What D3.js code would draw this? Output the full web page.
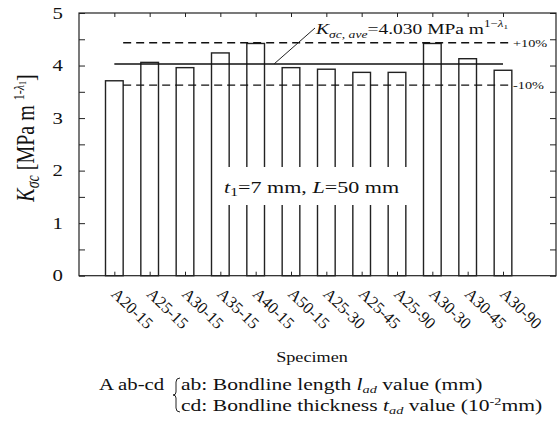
<!DOCTYPE html>
<html><head><meta charset="utf-8">
<script src="https://cdn.jsdelivr.net/npm/d3@7"></script>
<style>
html,body{margin:0;padding:0;background:#fff;}
svg text{font-family:"Liberation Serif","Times New Roman",serif;fill:#111;}
</style></head>
<body>
<svg id="chart" width="557" height="425"></svg>
<script>
// ---- data ----
const specimens = ["A20-15","A25-15","A30-15","A35-15","A40-15","A50-15","A25-30","A25-45","A25-90","A30-30","A30-45","A30-90"];
const kValues   = [3.71, 4.06, 3.96, 4.24, 4.42, 3.96, 3.93, 3.87, 3.87, 4.42, 4.13, 3.91];
const yTickLabels = [0, 1, 2, 3, 4, 5];
const kAve = 4.030;
const bandLevels = [0.10, -0.10];
const bandLabels = ["+10%", "-10%"];

// ---- layout ----
const svg = d3.select("#chart");
const SX = 1.3; // horizontal stretch of the original figure's text
const x = d3.scaleLinear().domain([0, 13.5]).range([79, 556]);
const y = d3.scaleLinear().domain([0, 5]).range([275.7, 13]);
const barW = x(0.5) - x(0);
const idx = specimens.map((d, i) => i + 1);

function stext(g, px, py, opts = {}) {
  const t = g.append("text")
    .attr("transform", `translate(${px},${py}) scale(${opts.sx || SX},1)${opts.rot ? ` rotate(${opts.rot})` : ""}`)
    .attr("font-size", opts.size || 16)
    .attr("text-anchor", opts.anchor || "start");
  return t;
}

// bars
svg.append("g").selectAll("rect").data(kValues).join("rect")
  .attr("x", (d, i) => x(idx[i]) - barW / 2)
  .attr("y", d => y(d))
  .attr("width", barW)
  .attr("height", d => y(0) - y(d))
  .attr("fill", "#fff").attr("stroke", "#222").attr("stroke-width", 1.4);

// white box behind condition text
svg.append("rect").attr("x", 215).attr("y", 167).attr("width", 195).attr("height", 38).attr("fill", "#fff");

// average line
svg.append("line")
  .attr("x1", x(1)).attr("x2", x(specimens.length))
  .attr("y1", y(kAve)).attr("y2", y(kAve))
  .attr("stroke", "#111").attr("stroke-width", 1.4);

// +-10% dashed lines
svg.append("g").selectAll("line").data(bandLevels).join("line")
  .attr("x1", x(1.25)).attr("x2", x(12.25))
  .attr("y1", d => y(kAve * (1 + d))).attr("y2", d => y(kAve * (1 + d)))
  .attr("stroke", "#111").attr("stroke-width", 1.4).attr("stroke-dasharray", "8,5");

const bandG = svg.append("g");
bandLevels.forEach((d, i) => {
  stext(bandG, 513, y(kAve * (1 + d)) + 4, {size: 11}).text(bandLabels[i]);
});

// axes frame & ticks
const minorTicks = d3.range(0, 5.01, 0.5);
svg.append("g").attr("transform", `translate(${x(0)},0)`)
  .call(d3.axisLeft(y).tickValues(minorTicks).tickSize(-6).tickFormat(""))
  .call(g => g.select(".domain").remove());
svg.append("g").attr("transform", `translate(${x(13.5)},0)`)
  .call(d3.axisRight(y).tickValues(minorTicks).tickSize(-6).tickFormat(""))
  .call(g => g.select(".domain").remove());
svg.append("g").attr("transform", `translate(0,${y(0)})`)
  .call(d3.axisBottom(x).tickValues(idx).tickSize(-4).tickFormat(""))
  .call(g => g.select(".domain").remove());
svg.append("g").attr("transform", `translate(0,${y(5)})`)
  .call(d3.axisTop(x).tickValues(idx).tickSize(-4).tickFormat(""))
  .call(g => g.select(".domain").remove());
svg.selectAll(".tick line").attr("stroke", "#222").attr("stroke-width", 1);
svg.append("rect").attr("x", x(0)).attr("y", y(5))
  .attr("width", x(13.5) - x(0)).attr("height", y(0) - y(5))
  .attr("fill", "none").attr("stroke", "#222").attr("stroke-width", 1.2);

// y tick labels
const ylG = svg.append("g");
yTickLabels.forEach(v => {
  stext(ylG, 63, y(v) + 5.5, {size: 16, anchor: "end"}).text(v);
});

// x tick labels
const xlG = svg.append("g");
specimens.forEach((s, i) => {
  xlG.append("text")
    .attr("transform", `translate(${x(idx[i]) - 4},${295}) rotate(44)`)
    .attr("font-size", 16.5).text(s);
});

// x axis title
stext(svg, 312, 362, {size: 14, anchor: "middle"}).text("Specimen");

// y axis title
const yt = stext(svg, 34, 138, {size: 20, anchor: "middle", rot: -90});
yt.append("tspan").attr("font-style", "italic").text("K");
yt.append("tspan").attr("font-style", "italic").attr("font-size", 14).attr("dy", 4).text("σc");
yt.append("tspan").attr("dy", -4).text("  [MPa m ");
yt.append("tspan").attr("font-size", 12).attr("dy", -8).text("1-");
yt.append("tspan").attr("font-size", 12).attr("font-style", "italic").text("λ");
yt.append("tspan").attr("font-size", 8).attr("dy", 2).text("1");
yt.append("tspan").attr("dy", 6).text("]");

// average annotation
svg.append("line").attr("x1", 274).attr("y1", 64).attr("x2", 315).attr("y2", 28)
  .attr("stroke", "#222").attr("stroke-width", 1);
const an = stext(svg, 316, 34, {size: 15});
an.append("tspan").attr("font-style", "italic").text("K");
an.append("tspan").attr("font-style", "italic").attr("font-size", 10.5).attr("dy", 4).text("σc, ave");
an.append("tspan").attr("dy", -4).text("=" + kAve.toFixed(3) + " MPa m");
an.append("tspan").attr("font-size", 10).attr("dy", -7).text("1−");
an.append("tspan").attr("font-size", 10).attr("font-style", "italic").text("λ");
an.append("tspan").attr("font-size", 7).attr("dy", 2).text("1");

// condition text
const ct = stext(svg, 224, 193, {size: 17});
ct.append("tspan").attr("font-style", "italic").text("t");
ct.append("tspan").attr("font-size", 12).attr("dy", 3).text("1");
ct.append("tspan").attr("dy", -3).text("=7 mm, ");
ct.append("tspan").attr("font-style", "italic").text("L");
ct.append("tspan").text("=50 mm");

// caption
stext(svg, 99, 390, {size: 16}).text("A ab-cd");
svg.append("path")
  .attr("d", "M180,378 Q176,378 176,382 L176,392 Q176,395 173,395 Q176,395 176,398 L176,408 Q176,412 180,412")
  .attr("fill", "none").attr("stroke", "#222").attr("stroke-width", 1);
const c1 = stext(svg, 181, 390, {size: 16.6});
c1.append("tspan").text("ab: Bondline length ");
c1.append("tspan").attr("font-style", "italic").text("l");
c1.append("tspan").attr("font-style", "italic").attr("font-size", 11).attr("dy", 3).text("ad");
c1.append("tspan").attr("dy", -3).text(" value (mm)");
const c2 = stext(svg, 181, 411, {size: 16.6});
c2.append("tspan").text("cd: Bondline thickness ");
c2.append("tspan").attr("font-style", "italic").text("t");
c2.append("tspan").attr("font-style", "italic").attr("font-size", 11).attr("dy", 3).text("ad");
c2.append("tspan").attr("dy", -3).text(" value (10");
c2.append("tspan").attr("font-size", 11).attr("dy", -6).text("-2");
c2.append("tspan").attr("dy", 6).text("mm)");
</script>
</body></html>
